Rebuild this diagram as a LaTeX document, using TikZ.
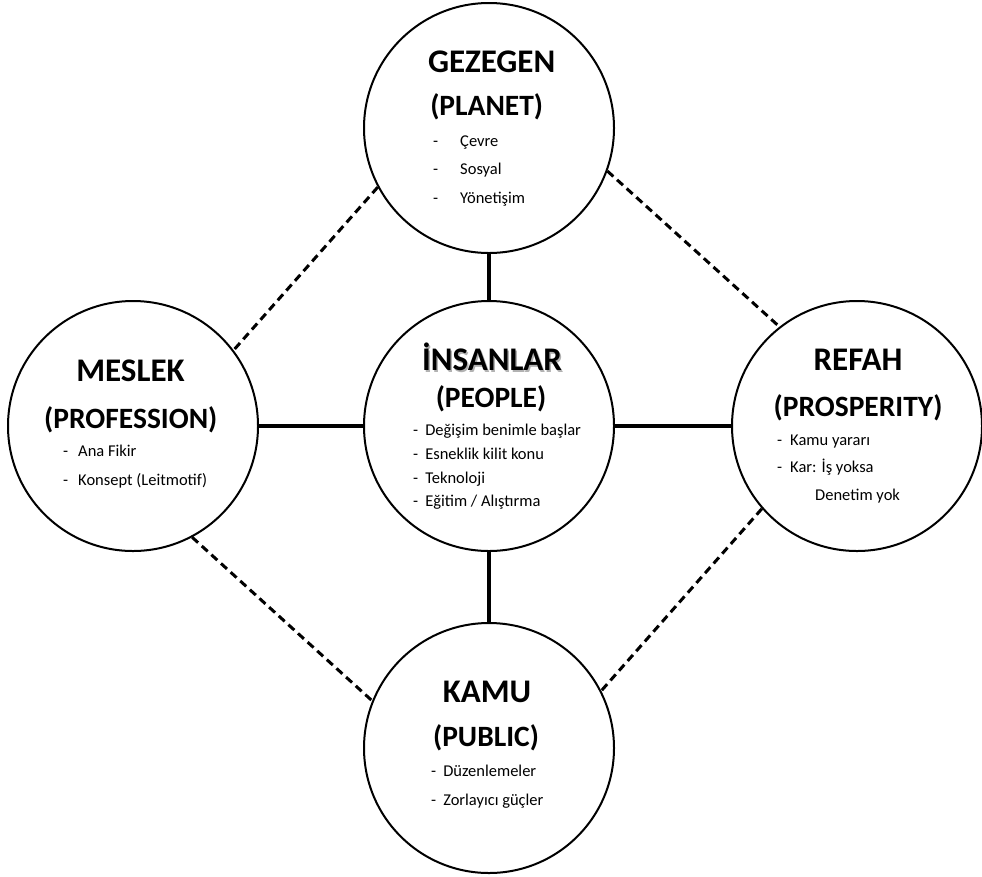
\documentclass[tikz,border=0pt]{standalone}
\usepackage{fontspec}
\setmainfont{Carlito}
\tikzset{
  ring/.style={circle, draw, line width=2pt, minimum size=250pt, inner sep=0pt},
  link/.style={line width=4pt},
  weak/.style={line width=3pt, dash pattern=on 8pt off 5pt},
  title/.style={anchor=base, inner sep=0pt, font=\fontsize{33}{36}\selectfont\bfseries},
  subtitle/.style={anchor=base, inner sep=0pt, font=\fontsize{29.5}{32}\selectfont\bfseries},
  items/.style={anchor=base west, align=left, inner sep=0pt},
}
\begin{document}
\begin{tikzpicture}[x=1pt,y=-1pt]
\useasboundingbox (0,0) rectangle (982,876);
% the five circles
\node[ring] (gez) at (489,128) {};
\node[ring] (ins) at (489,426) {};
\node[ring] (mes) at (133,426) {};
\node[ring] (ref) at (857,426) {};
\node[ring] (kam) at (489,748) {};
% solid links to the middle
\draw[link] (gez) -- (ins);
\draw[link] (mes) -- (ins);
\draw[link] (ins) -- (ref);
\draw[link] (ins) -- (kam);
% dashed links round the outside
\draw[weak] (gez.208.8) -- (mes.37.8);
\draw[weak] (gez.-20.4) -- (ref.128);
\draw[weak] (mes.298) -- (kam.158.5);
\draw[weak] (ref.221) -- (kam.27.6);
% GEZEGEN (lists are placed by their last baseline)
\node[title] (gezname) at (491.7,72) {GEZEGEN};
\node[subtitle] (gezsub) at (486.7,115) {(PLANET)};
\node[items, font=\fontsize{16.5}{28.5}\selectfont] (gezlist) at (433,203)
  {-\hspace{22pt}Çevre\\-\hspace{22pt}Sosyal\\-\hspace{22pt}Yönetişim};
% İNSANLAR
\node[title, text=black!30] (insshadow) at (493.5,372) {İNSANLAR};
\node[title] (insname) at (492,370) {İNSANLAR};
\node[subtitle] (inssub) at (491,407) {(PEOPLE)};
\node[items, font=\fontsize{16.5}{23.7}\selectfont] (inslist) at (413,506.7)
  {-\hspace{7pt}Değişim benimle başlar\\-\hspace{7pt}Esneklik kilit konu\\-\hspace{7pt}Teknoloji\\-\hspace{7pt}Eğitim / Alıştırma};
% MESLEK
\node[title] (mesname) at (130.5,381.7) {MESLEK};
\node[subtitle] (messub) at (130.8,428) {(PROFESSION)};
\node[items, font=\fontsize{16.5}{28.3}\selectfont] (meslist) at (63,485)
  {-\hspace{10pt}Ana Fikir\\-\hspace{10pt}Konsept (Leitmotif)};
% REFAH
\node[title] (refname) at (858,370) {REFAH};
\node[subtitle] (refsub) at (858,416.7) {(PROSPERITY)};
\node[items, font=\fontsize{16.5}{27.5}\selectfont] (reflist) at (777,500)
  {-\hspace{8pt}Kamu yararı\\-\hspace{8pt}Kar: İş yoksa\\\hspace*{38pt}Denetim yok};
% KAMU
\node[title] (kamname) at (487,702.7) {KAMU};
\node[subtitle] (kamsub) at (486,746.7) {(PUBLIC)};
\node[items, font=\fontsize{16.5}{28.3}\selectfont] (kamlist) at (431,805)
  {-\hspace{7pt}Düzenlemeler\\-\hspace{7pt}Zorlayıcı güçler};
\end{tikzpicture}
\end{document}
